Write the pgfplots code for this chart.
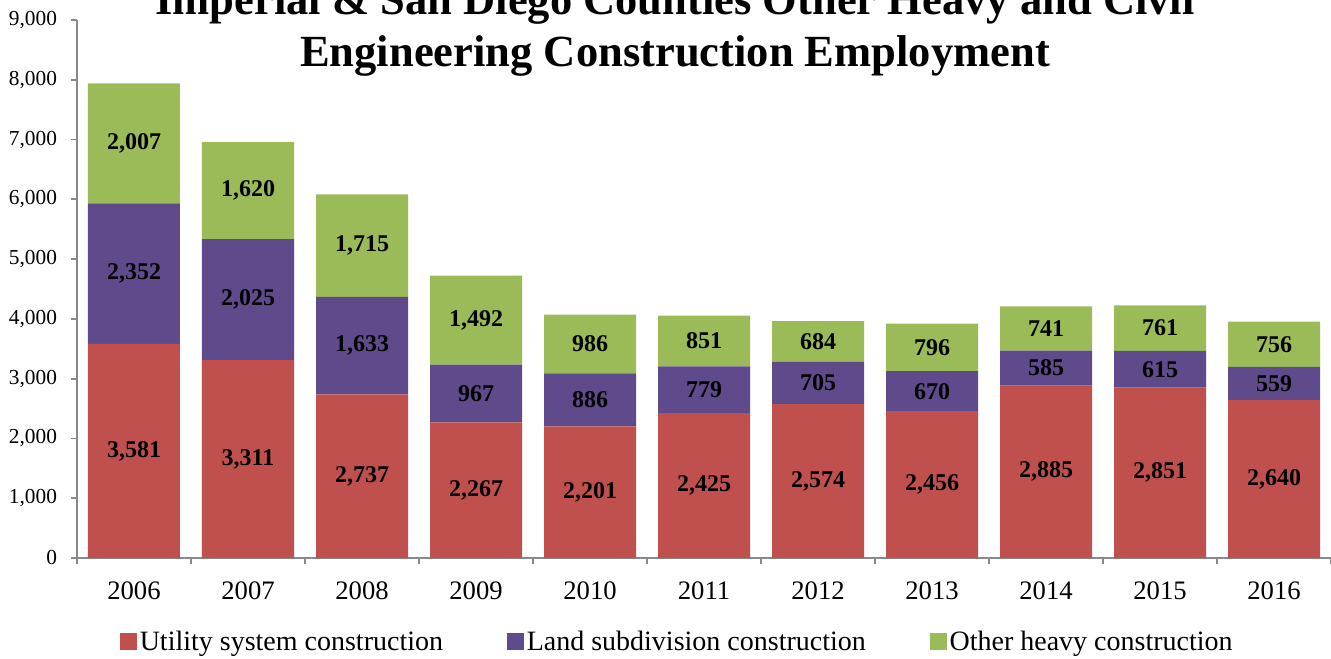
\documentclass[border=0pt]{standalone}
\usepackage{fontspec}
\setmainfont{Liberation Serif}
\usepackage{pgfplots}
\usepackage{pgfplotstable}
\pgfplotsset{compat=1.18}
\definecolor{cu}{HTML}{C0504D}
\definecolor{cl}{HTML}{5F4B8B}
\definecolor{co}{HTML}{9BBB59}
\definecolor{axc}{HTML}{898989}

\pgfplotstableread{
x u l o
0 3581 2352 2007
1 3311 2025 1620
2 2737 1633 1715
3 2267 967 1492
4 2201 886 986
5 2425 779 851
6 2574 705 684
7 2456 670 796
8 2885 585 741
9 2851 615 761
10 2640 559 756
}\data

\begin{document}
\begin{tikzpicture}
\pgfplotsset{base/.style={width=940.5pt,height=403.5pt,scale only axis,
  xmin=-0.5,xmax=10.5,ymin=0,ymax=9000}}
\begin{axis}[base, ybar stacked, bar width=69pt,
  axis x line*=bottom, axis y line*=left,
  axis line style={axc, line width=1.3pt},
  xtick={-0.5,0.5,...,10.5},
  xticklabels={2006,2007,2008,2009,2010,2011,2012,2013,2014,2015,2016,{}},
  xticklabel style={xshift=42.75pt, yshift=-9.5pt, font=\fontsize{20}{24}\selectfont},
  ytick={0,1000,...,9000},
  yticklabel style={xshift=-7pt, font=\fontsize{16}{18}\selectfont},
  tick align=outside, major tick length=4.5pt,
  tick style={axc, line width=1.3pt},
  /pgf/number format/1000 sep={,},
  /pgf/number format/assume math mode=true,
  legend columns=3,
  legend style={at={(0.479,-0.156)}, anchor=center, draw=none,
    font=\fontsize{21}{24}\selectfont,
    /tikz/every even column/.append style={column sep=46pt}},
  legend image code/.code={\fill[#1] (0pt,-6.4pt) rectangle (12.8pt,6.4pt);},
]
\addplot[fill=cu, draw=none] table[x=x,y=u]{\data};
\addplot[fill=cl, draw=none] table[x=x,y=l]{\data};
\addplot[fill=co, draw=none] table[x=x,y=o]{\data};
\legend{Utility system construction, Land subdivision construction, Other heavy construction}
\coordinate (O) at (rel axis cs:0,0);
\end{axis}
\begin{axis}[base, hide axis, nodes near coords, point meta=explicit,
  every node near coord/.append style={anchor=center, text=black,
    font=\bfseries\fontsize{18}{20}\selectfont},
  /pgf/number format/1000 sep={,},
  /pgf/number format/assume math mode=true,
  /pgf/number format/fixed,
  /pgf/number format/precision=0]
\addplot[draw=none] table[x=x, y expr=\thisrow{u}/2, meta=u]{\data};
\addplot[draw=none] table[x=x, y expr=\thisrow{u}+\thisrow{l}/2, meta=l]{\data};
\addplot[draw=none] table[x=x, y expr=\thisrow{u}+\thisrow{l}+\thisrow{o}/2, meta=o]{\data};
\end{axis}
\node[anchor=base, inner sep=0, font=\bfseries\fontsize{33.4}{39}\selectfont] at ([xshift=448.5pt, yshift=407.25pt]O) {Imperial \& San Diego Counties Other Heavy and Civil};
\node[anchor=base, inner sep=0, font=\bfseries\fontsize{33.4}{39}\selectfont] at ([xshift=448.5pt, yshift=368.25pt]O) {Engineering Construction Employment};
\pgfresetboundingbox
\path[use as bounding box] ([xshift=-57.75pt,yshift=-75pt]O) rectangle ([xshift=940.5pt,yshift=418.5pt]O);
\end{tikzpicture}
\end{document}
